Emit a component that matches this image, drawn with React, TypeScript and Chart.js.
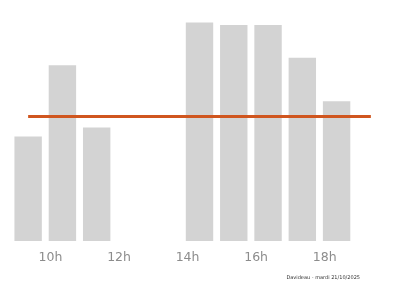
import React, { useEffect, useRef } from "react";
import { Chart, registerables } from "chart.js";

Chart.register(...registerables);

const hours = ["9h", "10h", "11h", "12h", "13h", "14h", "15h", "16h", "17h", "18h", "19h"];
const counts = [104, 175, 113, 0, 0, 217.5, 215, 215, 182.5, 139, 0];
const average = [124, 124, 124, 124, 124, 124, 124, 124, 124, 124, 124];
const footerText = "Davideau - mardi 21/10/2025";

const footerPlugin = {
  id: "footerNote",
  afterDraw(chart: any) {
    const ctx = chart.ctx;
    ctx.save();
    ctx.font = "5px 'DejaVu Sans', sans-serif";
    ctx.fillStyle = "#333";
    ctx.textAlign = "right";
    ctx.textBaseline = "middle";
    ctx.fillText(footerText, chart.width - 40, chart.height - 8);
    ctx.restore();
  },
};

export default function App() {
  const ref = useRef<HTMLCanvasElement>(null);
  useEffect(() => {
    document.body.style.margin = "0";
    const chart = new Chart(ref.current!, {
      type: "bar",
      data: {
        labels: hours,
        datasets: [
          {
            type: "line",
            data: average,
            borderColor: "#d0561f",
            borderWidth: 3,
            pointRadius: 0,
            order: 0,
          } as any,
          {
            type: "bar",
            data: counts,
            backgroundColor: "#d3d3d3",
            categoryPercentage: 1,
            barPercentage: 0.8,
            order: 1,
          },
        ],
      },
      options: {
        animation: false,
        responsive: false,
        layout: { padding: { left: 11, right: 12, top: 20, bottom: 20 } },
        plugins: { legend: { display: false }, tooltip: { enabled: false } },
        scales: {
          x: {
            grid: { display: false },
            border: { display: false },
            ticks: {
              autoSkip: false,
              maxRotation: 0,
              align: "end",
              padding: 1,
              color: "#8c8c8c",
              font: { family: "'DejaVu Sans', sans-serif", size: 12.5 },
              callback: (_v: any, i: number) => (i % 2 === 1 ? hours[i] : ""),
            },
          },
          y: { display: false, min: 0, max: 220 },
        },
      },
      plugins: [footerPlugin],
    });
    return () => chart.destroy();
  }, []);
  return (
    <div style={{ width: 400, height: 286 }}>
      <canvas ref={ref} width={400} height={286} />
    </div>
  );
}
